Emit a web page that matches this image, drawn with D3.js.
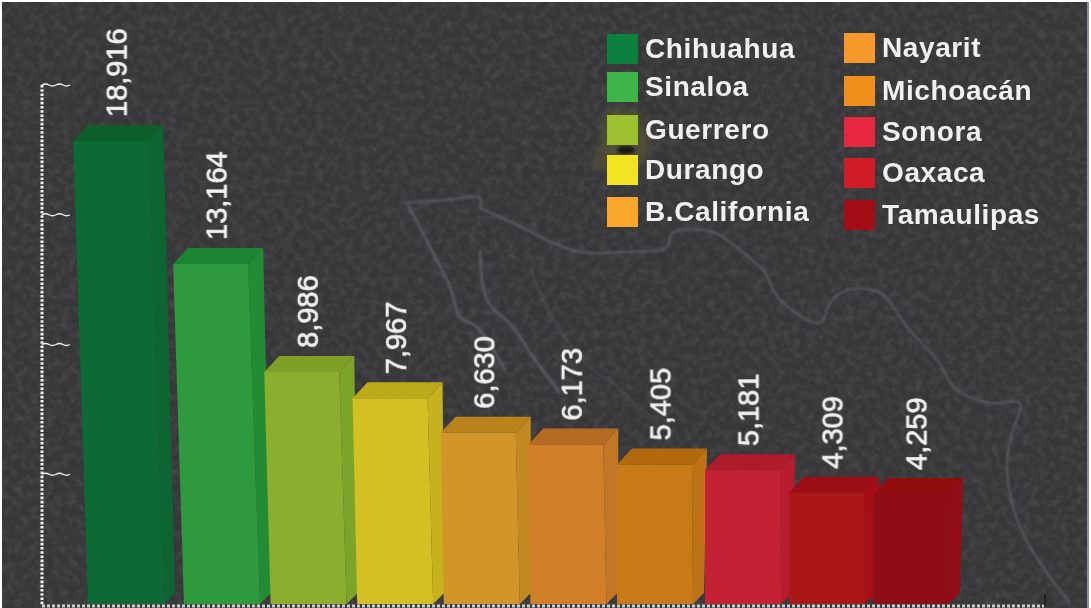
<!DOCTYPE html>
<html><head><meta charset="utf-8"><script src="https://cdn.jsdelivr.net/npm/d3@7"></script>
<style>html,body{margin:0;padding:0;background:#fff;overflow:hidden}svg{display:block}</style></head>
<body><svg id="c" width="1091" height="608"></svg>
<script>
const categories=["Chihuahua","Sinaloa","Guerrero","Durango","B.California","Nayarit","Michoacán","Sonora","Oaxaca","Tamaulipas"];
const values=[18916,13164,8986,7967,6630,6173,5405,5181,4309,4259];
const frontColors=["#0b6a35","#2f9a3d","#8bae2e","#d3c021","#d2952a","#d27f2c","#c87a17","#c32336","#ab1419","#8e1114"];
const sideColors=["#0a6532","#248c36","#7da429","#c6b21d","#c48a24","#c27625","#bd7212","#b81c2e","#a81116","#930f12"];
const topColors=["#0a5e2c","#1f8431","#7f9f27","#bda91c","#bb831f","#b56c20","#b06a10","#ae1a2a","#9d0f14","#920d10"];
const legendColors=["#0d8040","#3cb54a","#9dc02f","#f2e424","#f9a72a","#f7982a","#f18f1c","#e9283f","#cf1f26","#a31116"];
const axisTicks=[0,5000,10000,15000,20000];

const W=1091,H=608,base=604;
const svg=d3.select("#c");
const defs=svg.append("defs");
const f=defs.append("filter").attr("id","grain").attr("x",0).attr("y",0).attr("width","100%").attr("height","100%");
f.append("feTurbulence").attr("type","fractalNoise").attr("baseFrequency",0.13).attr("numOctaves",3).attr("seed",7);
f.append("feColorMatrix").attr("type","matrix").attr("values","0 0 0 0 1  0 0 0 0 1  0 0 0 0 1  1.0 0 0 0 -0.38");
defs.append("filter").attr("id","blur").append("feGaussianBlur").attr("stdDeviation",0.8);
defs.append("filter").attr("id","wide").attr("x","-30%").attr("y","-30%").attr("width","160%").attr("height","160%").append("feGaussianBlur").attr("stdDeviation",4);
defs.append("filter").attr("id","soft").append("feGaussianBlur").attr("stdDeviation",0.5);

svg.append("rect").attr("width",W).attr("height",H).attr("fill","#fff");
svg.append("rect").attr("x",2).attr("y",2).attr("width",W-4).attr("height",H-2).attr("fill","#37373a");
svg.append("rect").attr("x",2).attr("y",2).attr("width",W-4).attr("height",H-2).attr("filter","url(#grain)").attr("opacity",0.17);
svg.append("rect").attr("x",1087).attr("y",2).attr("width",2).attr("height",H-2).attr("fill","#8d90a8");

// faint map of Mexico behind the chart
const mapTop=[[403,203],[445,200],[480,198],[480,208]];
const mapBaja=[[408,205],[430,247],[450,287],[460,317],[477,327],[505,370]];
const mapCoast=[[480,250],[487,300],[513,327],[533,357],[560,393]];
const mapInner=[[530,267],[540,293],[560,330],[593,370],[613,383],[637,407]];
const mapNorth=[[480,208],[513,223],[547,240],[580,252],[620,252],[667,247],[672,233],[713,232],[740,250],[763,270],[780,300],[820,323],[830,303],[847,290],[880,293],[907,327],[937,360],[957,390],[990,403],[1020,403],[1013,430],[1007,460],[1013,507],[1030,547],[1070,603]];
const line=d3.line().curve(d3.curveCatmullRom);
const mapG=svg.append("g").attr("fill","none").attr("stroke","#66676b").attr("filter","url(#blur)");
mapG.selectAll("path").data([mapTop,mapBaja,mapCoast,mapNorth]).join("path").attr("d",line).attr("stroke-width",(d,i)=>i==3?2:2.6).attr("opacity",(d,i)=>i==0?.6:.75);
mapG.append("path").datum(mapInner).attr("d",line).attr("stroke-width",1.6).attr("opacity",.4);
// olive smudge behind the legend
svg.append("path").attr("d","M610 107L637 110L653 140L640 170L593 170L603 123Z").attr("fill","#5f5c32").attr("opacity",.55).attr("filter","url(#wide)");
svg.append("ellipse").attr("cx",626).attr("cy",150).attr("rx",9).attr("ry",4).attr("fill","#1c1c18").attr("filter","url(#blur)");

const yMarks=d3.scaleLinear().domain([0,13164,18916]).range([base,264,141]);
const yAxis=d3.scaleLinear().domain([0,20000]).range([base,85]);
const idx=d3.scaleLinear().domain([0,1,6,7,9]).range([88,184,617,705,873]);
const lean=d3.scaleLinear().domain([0,1,5,6,9]).range([.032,.032,.013,0,0]);

// dotted axis
const ax=svg.append("g").attr("fill","none").attr("stroke","#f2f2f2");
ax.append("line").attr("x1",42).attr("x2",42).attr("y1",yAxis(20000)).attr("y2",base+1).attr("stroke-width",3).attr("stroke-dasharray","2.6 1.6");
ax.append("line").attr("x1",42).attr("x2",1044).attr("y1",base+2).attr("y2",base+2).attr("stroke-width",3).attr("stroke-dasharray","3 2").attr("opacity",.8);
ax.selectAll("path.t").data(axisTicks.slice(1)).join("path").attr("class","t").attr("stroke-width",1.3)
 .attr("d",d=>{const y=yAxis(d);return `M42 ${y}q3.5 -2 7 0t7 0t7 0t7 0`;});
svg.append("line").attr("x1",1045).attr("x2",1045).attr("y1",594).attr("y2",606).attr("stroke","#111").attr("stroke-width",1.2);

const dx=15,dy=16,fw=75;
const g=svg.append("g").attr("filter","url(#soft)");
const bars=g.selectAll("g").data(categories).join("g");
const geo=i=>{const bx=idx(i),h=base-yMarks(values[i]),tx=bx-lean(i)*h,y=yMarks(values[i]);return{bx,tx,y};};
bars.append("polygon").attr("fill",(d,i)=>sideColors[i]).attr("points",(d,i)=>{const p=geo(i);
 return [[p.tx+fw,p.y],[p.tx+fw+dx,p.y-dy],[p.bx+fw+12,base-11],[p.bx+fw+1,base]].join(" ");});
bars.append("polygon").attr("fill",(d,i)=>topColors[i]).attr("points",(d,i)=>{const p=geo(i);
 return [[p.tx,p.y],[p.tx+dx,p.y-dy],[p.tx+fw+dx,p.y-dy],[p.tx+fw,p.y]].join(" ");});
bars.append("polygon").attr("fill",(d,i)=>frontColors[i]).attr("points",(d,i)=>{const p=geo(i);
 return [[p.tx,p.y],[p.tx+fw,p.y],[p.bx+fw+1,base],[p.bx,base]].join(" ");});

const fmt=d3.format(",");
svg.append("g").selectAll("text").data(values).join("text")
 .attr("transform",(d,i)=>`translate(${geo(i).tx+dx+fw/2-9},${yMarks(d)-dy-8}) rotate(-90)`)
 .attr("font-family","Liberation Sans, Arial, sans-serif").attr("font-size",29).attr("fill","#f1f1f1").attr("stroke","#f1f1f1").attr("stroke-width",.7).attr("dy",".35em")
 .attr("filter","url(#soft)").text(d=>fmt(d));

// legend
const leg=svg.append("g").selectAll("g").data(categories).join("g")
 .attr("transform",(d,i)=>`translate(${i<5?607:844},${(i<5?[34,72,115,155,197]:[33,76,117,158,200])[i%5]})`);
leg.append("rect").attr("width",31).attr("height",30).attr("fill",(d,i)=>legendColors[i]).attr("filter","url(#soft)");
leg.append("text").attr("x",38).attr("y",13.5).attr("dy",".36em")
 .attr("font-family","Liberation Sans, Arial, sans-serif").attr("font-weight",700).attr("font-size",28).attr("letter-spacing",.6).attr("fill","#f1f1f1").attr("filter","url(#soft)").text(d=>d);
</script></body></html>
